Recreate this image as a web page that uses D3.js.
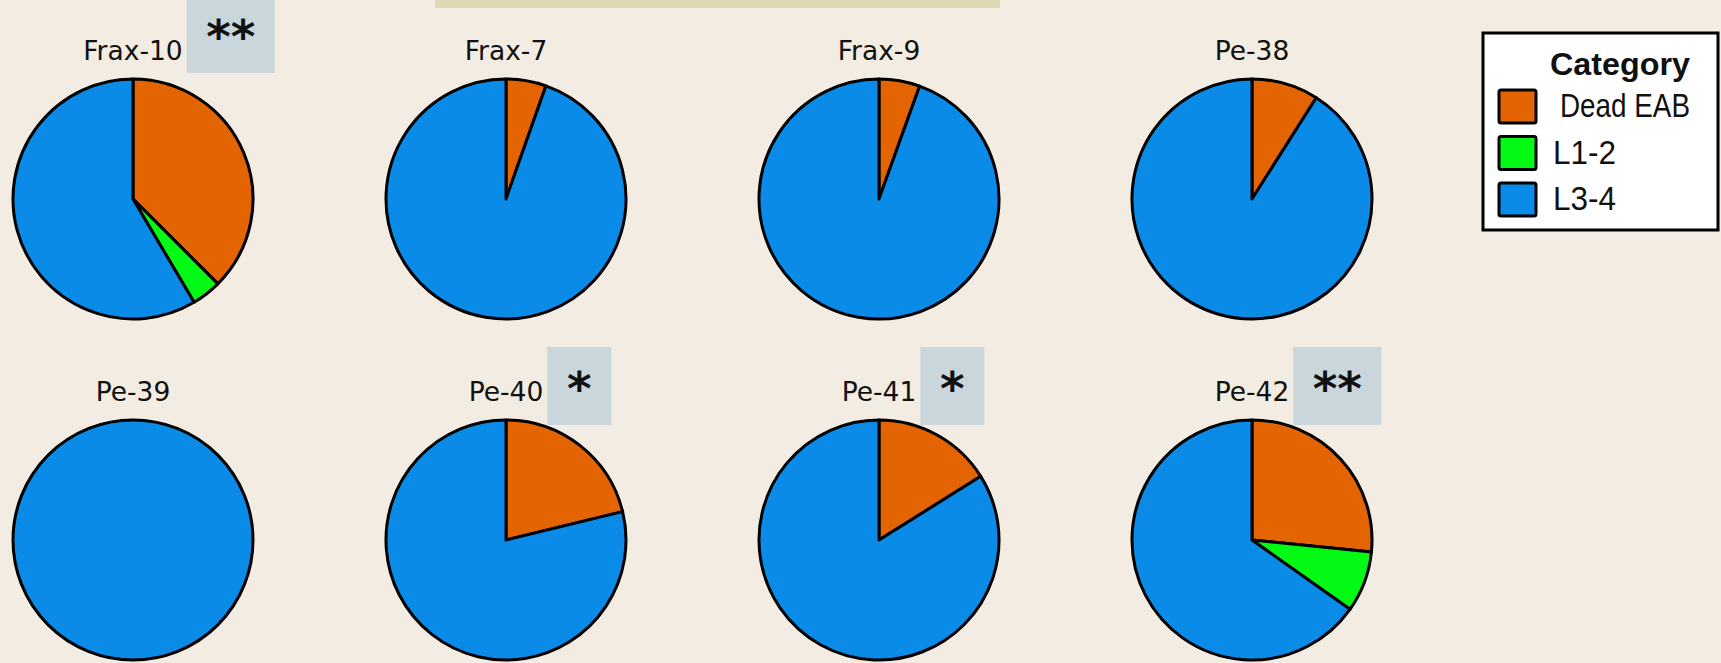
<!DOCTYPE html>
<html>
<head>
<meta charset="utf-8">
<script src="https://cdn.jsdelivr.net/npm/d3@7"></script>
<style>
  html, body { margin: 0; padding: 0; background: #f2ece2; overflow: hidden; }
  svg { display: block; }
</style>
</head>
<body>
<div class="chart"></div>
<script>
const width = 1721;
const height = 663;

// data (percent of larvae per tree)
const trees = ["Frax-10", "Frax-7", "Frax-9", "Pe-38", "Pe-39", "Pe-40", "Pe-41", "Pe-42"];
const categories = ["Dead EAB", "L1-2", "L3-4"];
const deadEAB = [37.5, 5.4, 5.5, 9.0, 0, 21.2, 16.1, 26.6];
const l12     = [4.0,  0,   0,   0,   0, 0,    0,    8.2];
const l34     = [58.5, 94.6, 94.5, 91.0, 100, 78.8, 83.9, 65.2];
// significance marks
const markTrees = ["Frax-10", "Pe-40", "Pe-41", "Pe-42"];
const markStars = ["**", "*", "*", "**"];

const colors = d3.scaleOrdinal(categories, ["#e46402", "#03fa14", "#0a8be8"]);

const colX = d3.scaleLinear().domain([0, 3]).range([133, 1252]);
const rowY = d3.scaleLinear().domain([0, 1]).range([199, 540]);
const radius = 120;

const svg = d3.select(".chart")
  .append("svg")
  .attr("width", width)
  .attr("height", height);

svg.append("rect")
  .attr("width", width).attr("height", height)
  .attr("fill", "#f2ece2");

// strip at the top edge
svg.append("rect")
  .attr("x", 435).attr("y", 0)
  .attr("width", 565).attr("height", 8)
  .attr("fill", "#dfd8b4");

const pie = d3.pie().sort(null).value(d => d.value).startAngle(0).endAngle(2 * Math.PI);
const arc = d3.arc().innerRadius(0).outerRadius(radius);

const cells = svg.selectAll("g.cell")
  .data(trees.map((name, i) => ({
    name,
    col: i % 4,
    row: Math.floor(i / 4),
    slices: categories.map((c, k) => ({cat: c, value: [deadEAB, l12, l34][k][i]}))
  })))
  .join("g")
  .attr("class", "cell")
  .attr("transform", d => `translate(${colX(d.col)},${rowY(d.row)})`);

cells.selectAll("path")
  .data(d => pie(d.slices.filter(s => s.value > 0)))
  .join("path")
  .attr("d", arc)
  .attr("fill", d => colors(d.data.cat))
  .attr("stroke", "#000")
  .attr("stroke-width", 3)
  .attr("stroke-linejoin", "round");

const labels = cells.append("text")
  .attr("y", -139)
  .attr("text-anchor", "middle")
  .attr("font-family", "DejaVu Sans, Verdana, sans-serif")
  .attr("font-size", 26.5)
  .attr("fill", "#111")
  .text(d => d.name);

// grey boxes with stars, placed right after the label
const boxTop = [-5, 347];
labels.each(function(d) {
  const m = markTrees.indexOf(d.name);
  if (m < 0) return;
  const stars = markStars[m];
  const labelEnd = colX(d.col) + this.getComputedTextLength() / 2;
  const bx = labelEnd + 4;
  const bw = 40 + 24 * stars.length;
  const by = boxTop[d.row];
  svg.append("rect")
    .attr("x", bx).attr("y", by)
    .attr("width", bw).attr("height", 78)
    .attr("fill", "#c9d6dc");
  svg.append("text")
    .attr("x", bx + bw / 2)
    .attr("y", by + 58)
    .attr("text-anchor", "middle")
    .attr("font-family", "DejaVu Sans, sans-serif")
    .attr("font-weight", "bold")
    .attr("font-size", 47)
    .attr("fill", "#111")
    .text(stars);
});

// legend
const legend = svg.append("g");
legend.append("rect")
  .attr("x", 1483).attr("y", 33)
  .attr("width", 235).attr("height", 197)
  .attr("fill", "#fff")
  .attr("stroke", "#000")
  .attr("stroke-width", 3);

legend.append("text")
  .attr("x", 1550).attr("y", 75)
  .attr("font-family", "Liberation Sans, Arial, sans-serif")
  .attr("font-weight", "bold")
  .attr("font-size", 31)
  .attr("textLength", 140)
  .attr("lengthAdjust", "spacingAndGlyphs")
  .attr("fill", "#111")
  .text("Category");

const items = legend.selectAll("g.item")
  .data(categories)
  .join("g")
  .attr("class", "item")
  .attr("transform", (d, i) => `translate(0,${89 + i * 46.5})`);

items.append("rect")
  .attr("x", 1499).attr("y", 1)
  .attr("width", 37).attr("height", 33)
  .attr("rx", 2)
  .attr("fill", d => colors(d))
  .attr("stroke", "#000")
  .attr("stroke-width", 3);

items.append("text")
  .attr("x", (d, i) => i === 0 ? 1560 : 1553)
  .attr("y", 28)
  .attr("font-family", "Liberation Sans, Arial, sans-serif")
  .attr("font-size", 33)
  .attr("textLength", d => d === "Dead EAB" ? 130 : 63)
  .attr("lengthAdjust", "spacingAndGlyphs")
  .attr("fill", "#111")
  .text(d => d);
</script>
</body>
</html>
